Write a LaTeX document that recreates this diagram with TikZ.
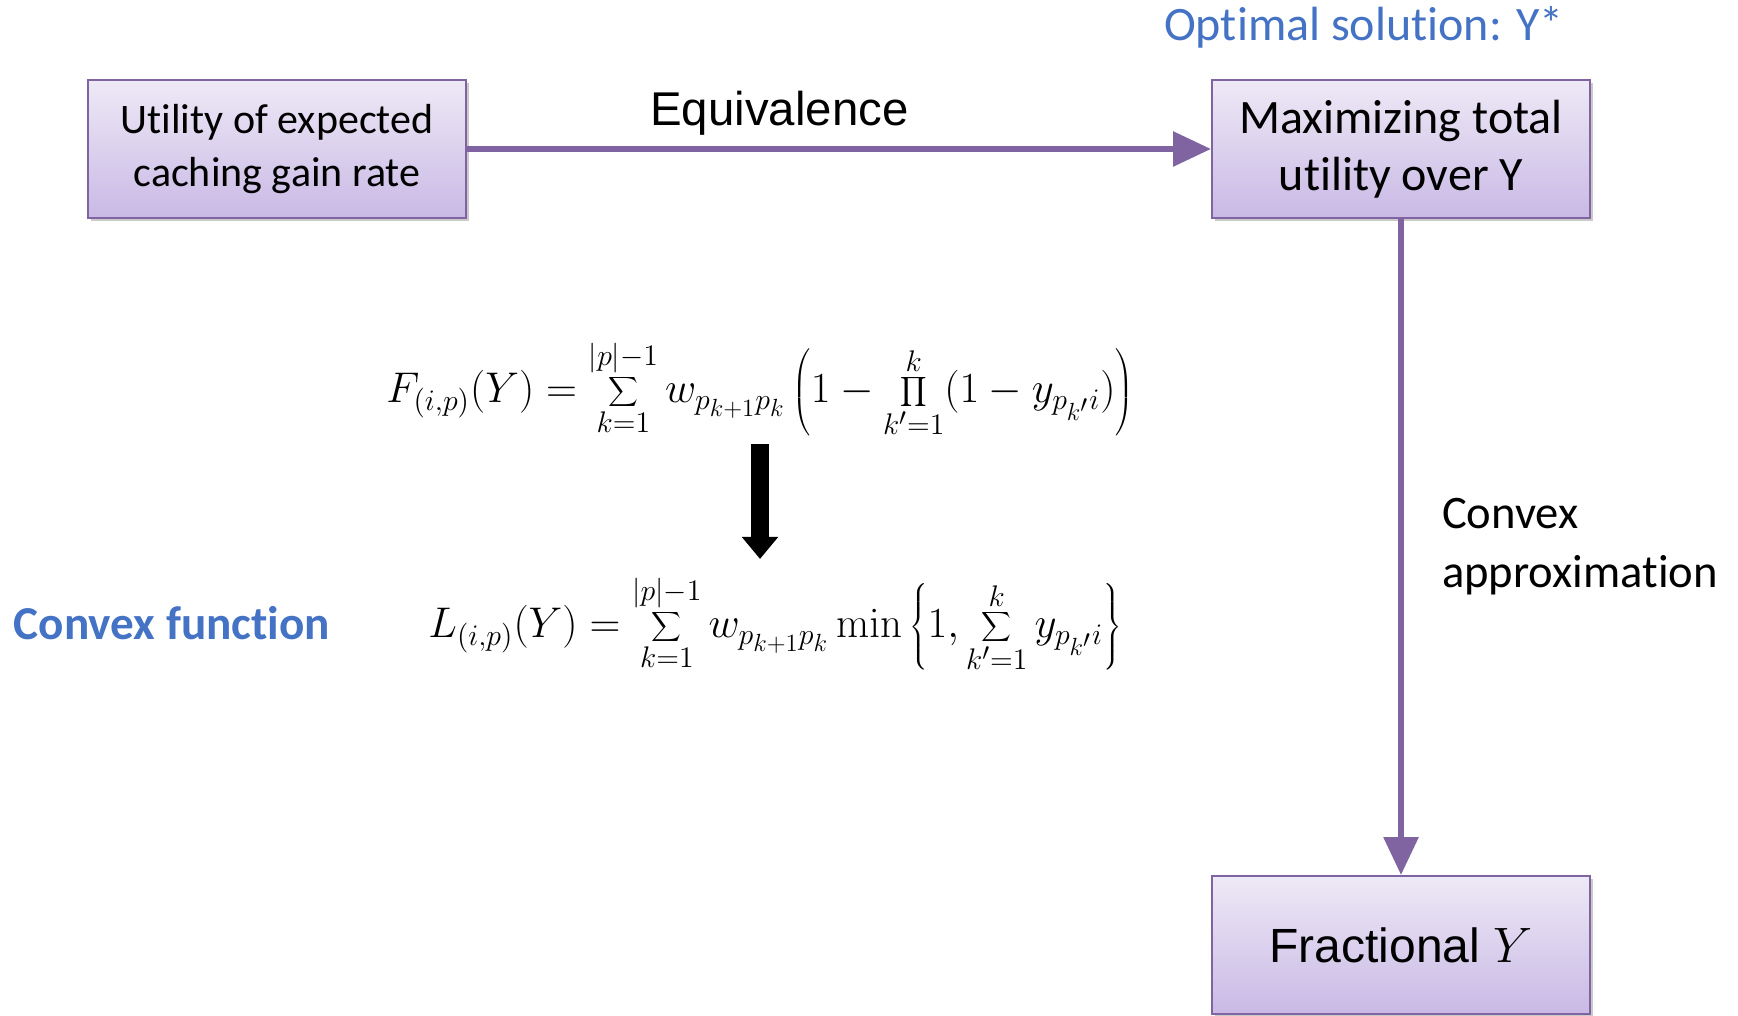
\documentclass[tikz,border=0pt]{standalone}
\usepackage[no-math]{fontspec}
\setmainfont[Ligatures={NoCommon,NoContextual,NoRequired},RawFeature={-liga;-clig;-dlig;-hlig;-ccmp}]{Carlito}
\newfontfamily\arialfont{Liberation Sans}
\usetikzlibrary{arrows.meta,shadows,positioning}
\definecolor{boxline}{RGB}{128,100,162}
\definecolor{boxtop}{RGB}{238,233,246}
\definecolor{boxbot}{RGB}{201,185,229}
\definecolor{noteblue}{RGB}{68,114,196}
\begin{document}
\begin{tikzpicture}[x=0.5pt,y=-0.5pt,
    stagebox/.style={draw=boxline, line width=1pt, top color=boxtop, bottom color=boxbot,
        minimum width=189pt, minimum height=69pt, align=center, inner sep=0pt,
        drop shadow={shadow xshift=1.5pt, shadow yshift=-1.5pt, opacity=0.35, fill=black!60}},
    flowarrow/.style={draw=boxline, line width=3pt, -{Triangle[width=17pt,length=19pt]}},
    formula/.style={inner sep=0pt, scale=1.035, transform shape, font=\fontsize{20.74}{25}\selectfont},
    note/.style={text=noteblue, font=\fontsize{24}{29}\selectfont}
]
    \useasboundingbox (0,0) rectangle (1738,1016);
    % Stages of the problem
    \node[stagebox, font=\fontsize{21}{26.5}\selectfont] (util) at (277,149) {Utility of expected\\caching gain rate};
    \node[stagebox, font=\fontsize{24}{28.5}\selectfont] (maxim) at (1401,149) {Maximizing total\\utility over Y};
    \node[stagebox, font=\fontsize{24}{29}\arialfont] (frac) at (1401,945) {Fractional $Y$};
    % Connectors
    \draw[flowarrow] (util) -- node[pos=0.42, above=2pt, font=\fontsize{23.7}{28}\arialfont] (equiv) {Equivalence} (maxim);
    \draw[flowarrow] (maxim) -- node[right=19pt, inner sep=0pt, align=left, font=\fontsize{23.3}{29.5}\selectfont] (approx) {Convex\\approximation} (frac);
    % Notes
    \node[note] (optimal) at (1364,27) {Optimal solution: Y*};
    \node[note, font=\fontsize{23.6}{29}\selectfont\bfseries] (convex) at (172,623) {Convex function};
    % Formulas
    \node[formula] (fexact) at (760,389) {$\displaystyle F_{(i,p)}(Y)=\sum_{k=1}^{|p|-1} w_{p_{k+1}p_k}\left(1-\prod_{k'=1}^{k}(1-y_{p_{k'}i})\right)$};
    \node[formula] (lconv) at (775,624) {$\displaystyle L_{(i,p)}(Y)=\sum_{k=1}^{|p|-1} w_{p_{k+1}p_k}\min\left\{1,\sum_{k'=1}^{k}y_{p_{k'}i}\right\}$};
    \draw[line width=9pt, -{Triangle[width=17.5pt,length=11pt]}, shorten <=3.5pt, shorten >=8.5pt]
        (fexact.south) -- (fexact.south |- lconv.north);
\end{tikzpicture}
\end{document}
